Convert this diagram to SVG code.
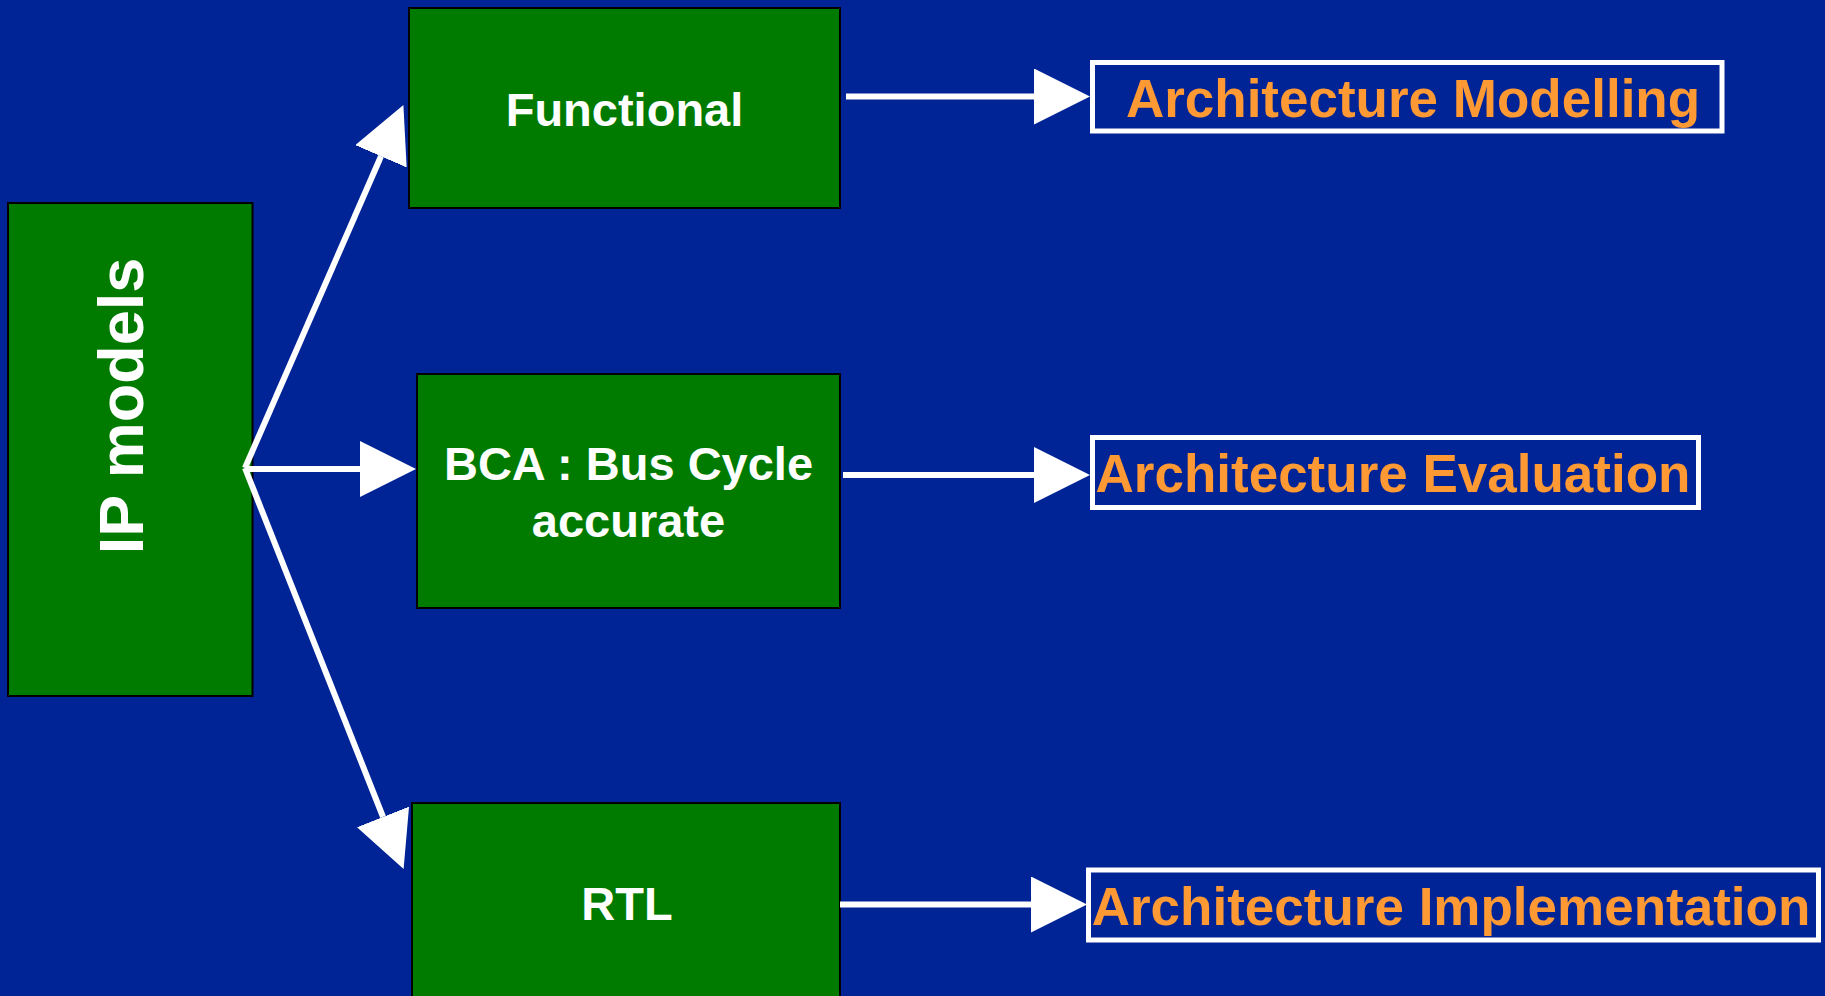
<svg xmlns="http://www.w3.org/2000/svg" width="1825" height="996" viewBox="0 0 1825 996">
  <style>
    .model { fill: #007b00; stroke: #000000; stroke-width: 2; }
    .model-label { fill: #ffffff; font-family: "Liberation Sans", Arial, sans-serif; font-weight: bold; font-size: 47px; text-anchor: middle; }
    .stage { fill: none; stroke: #ffffff; stroke-width: 5; }
    .stage-label { fill: #ff9933; font-family: "Liberation Sans", Arial, sans-serif; font-weight: bold; font-size: 53px; text-anchor: middle; }
    .link { stroke: #ffffff; stroke-width: 6; fill: none; }
  </style>
  <defs>
    <marker id="head" viewBox="0 0 56 56" markerWidth="56" markerHeight="56" refX="0" refY="28" orient="auto" markerUnits="userSpaceOnUse">
      <path d="M0,0 L56,28 L0,56 Z" fill="#ffffff"/>
    </marker>
  </defs>

  <rect width="1825" height="996" fill="#002395"/>

  <!-- model abstraction levels -->
  <g id="ip-models">
    <rect class="model" x="8" y="203" width="244.5" height="493"/>
    <text class="model-label" style="font-size:63px" transform="translate(143,406) rotate(-90)">IP models</text>
  </g>
  <g id="functional">
    <rect class="model" x="409" y="8" width="431" height="200"/>
    <text class="model-label" x="624.5" y="126">Functional</text>
  </g>
  <g id="bca">
    <rect class="model" x="417" y="374" width="423" height="234"/>
    <text class="model-label" x="628.5" y="480">BCA : Bus Cycle</text>
    <text class="model-label" x="628.5" y="537">accurate</text>
  </g>
  <g id="rtl">
    <rect class="model" x="412" y="803" width="428" height="210"/>
    <text class="model-label" x="627" y="920">RTL</text>
  </g>

  <!-- design stages -->
  <g id="arch-modelling">
    <rect class="stage" x="1092.5" y="62.5" width="629.5" height="68.5"/>
    <text class="stage-label" x="1413" y="116.5">Architecture Modelling</text>
  </g>
  <g id="arch-evaluation">
    <rect class="stage" x="1092.5" y="437.5" width="606" height="70"/>
    <text class="stage-label" x="1393" y="491.5">Architecture Evaluation</text>
  </g>
  <g id="arch-implementation">
    <rect class="stage" x="1088.5" y="870" width="730" height="70"/>
    <text class="stage-label" x="1451" y="925">Architecture Implementation</text>
  </g>

  <!-- connectors, drawn on top so the fan-out starts over the IP models box -->
  <g id="connectors">
    <line class="link" x1="245" y1="468" x2="381" y2="156.3" marker-end="url(#head)"/>
    <line class="link" x1="245" y1="469" x2="360" y2="469" marker-end="url(#head)"/>
    <line class="link" x1="245" y1="468" x2="383" y2="816.9" marker-end="url(#head)"/>
    <line class="link" x1="846" y1="96.5" x2="1034" y2="96.5" marker-end="url(#head)"/>
    <line class="link" x1="843" y1="475" x2="1034" y2="475" marker-end="url(#head)"/>
    <line class="link" x1="840" y1="904.5" x2="1031" y2="904.5" marker-end="url(#head)"/>
  </g>
</svg>
